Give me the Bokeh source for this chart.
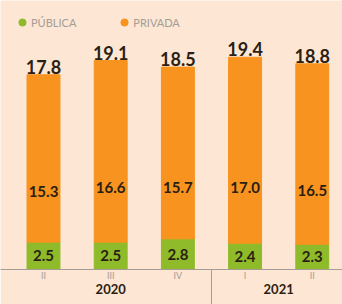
from bokeh.plotting import figure
from bokeh.models import ColumnDataSource, Range1d, LinearAxis, FixedTicker, Legend, LegendItem
from bokeh.core.properties import value
from bokeh.embed import file_html
from bokeh.resources import INLINE

# ---- data ----
quarters = ["II", "III", "IV", "I", "II"]
bar_years = ["2020", "2020", "2020", "2021", "2021"]
years = ["2020", "2021"]
publica = [2.5, 2.5, 2.8, 2.4, 2.3]
privada = [15.3, 16.6, 15.7, 17.0, 16.5]
totals = [17.8, 19.1, 18.5, 19.4, 18.8]

BG = "#fde6d3"
ORANGE = "#f7931e"
GREEN = "#8fbb2a"
GRAY = "#a39d96"
DARK = "#2a1f12"
FONT = "Lato"

xs = list(range(len(quarters)))
pub_top = publica
tot_top = [a + b for a, b in zip(publica, privada)]
priv_lab_y = [a + 0.3 * b for a, b in zip(publica, privada)]
pub_lab_y = [a / 2 for a in publica]

src = ColumnDataSource(dict(
    x=xs, pub=publica, priv=privada, tot=totals, pub_top=pub_top, tot_top=tot_top,
    priv_y=priv_lab_y, pub_y=pub_lab_y,
    pub_txt=[f"{v:.1f}" for v in publica],
    priv_txt=[f"{v:.1f}" for v in privada],
    tot_txt=[f"{v:.1f}" for v in totals],
))

p = figure(width=342, height=304, output_backend="svg", toolbar_location=None,
           x_range=Range1d(-0.64, 4.45), y_range=Range1d(0, 24.59),
           x_axis_location=None, y_axis_location=None,
           min_border_left=0, min_border_right=0, min_border_top=0, min_border_bottom=0)
p.background_fill_color = BG
p.border_fill_color = BG
p.outline_line_color = None
p.xgrid.visible = False
p.ygrid.visible = False

# legend markers (kept under the bars, only their style feeds the legend)
r_pub = p.scatter(x="x", y="pub_y", source=src, marker="circle", size=6, color=GREEN, level="underlay")
r_priv = p.scatter(x="x", y="priv_y", source=src, marker="circle", size=6, color=ORANGE, level="underlay")

W = 0.49
p.vbar(x="x", bottom=0, top="pub_top", width=W, color=GREEN, source=src)
p.vbar(x="x", bottom="pub_top", top="tot_top", width=W, color=ORANGE, source=src)

p.text(x="x", y="tot_top", text="tot_txt", source=src, text_align="center",
       text_baseline="bottom", y_offset=-1, text_font=value(FONT),
       text_font_style="bold", text_font_size="18px", text_color=DARK)
p.text(x="x", y="priv_y", text="priv_txt", source=src, text_align="center",
       text_baseline="middle", text_font=value(FONT),
       text_font_style="bold", text_font_size="15px", text_color=DARK)
p.text(x="x", y="pub_y", text="pub_txt", source=src, text_align="center",
       text_baseline="middle", text_font=value(FONT),
       text_font_style="bold", text_font_size="15px", text_color=DARK)

# separator between years
last_2020 = max(i for i, y in enumerate(bar_years) if y == years[0])
first_2021 = min(i for i, y in enumerate(bar_years) if y == years[1])
sep = (last_2020 + first_2021) / 2
year_pos = [sum(i for i, y in enumerate(bar_years) if y == yr) /
            sum(1 for y in bar_years if y == yr) for yr in years]

ax1 = LinearAxis(ticker=FixedTicker(ticks=xs, minor_ticks=[sep]),
                 major_label_overrides={i: q for i, q in zip(xs, quarters)})
ax1.axis_line_color = GRAY
ax1.major_tick_line_color = None
ax1.minor_tick_line_color = GRAY
ax1.minor_tick_in = 0
ax1.minor_tick_out = 40
ax1.major_tick_out = 0
ax1.major_tick_in = 0
ax1.major_label_standoff = -40
ax1.major_label_text_font = FONT
ax1.major_label_text_font_size = "9px"
ax1.major_label_text_color = GRAY
ax1.axis_label_standoff = 0
p.add_layout(ax1, "below")

ax2 = LinearAxis(ticker=FixedTicker(ticks=year_pos, minor_ticks=[]),
                 major_label_overrides={pos: yr for pos, yr in zip(year_pos, years)})
ax2.axis_line_color = None
ax2.major_tick_line_color = None
ax2.minor_tick_line_color = None
ax2.major_tick_out = 0
ax2.major_tick_in = 0
ax2.major_label_standoff = 0
ax2.major_label_text_font = FONT
ax2.major_label_text_font_style = "bold"
ax2.major_label_text_font_size = "13px"
ax2.major_label_text_color = DARK
ax2.axis_label = " "
ax2.axis_label_text_font_size = "1px"
ax2.axis_label_standoff = 4
p.add_layout(ax2, "below")

# legend
leg = Legend(items=[LegendItem(label="PÚBLICA", renderers=[r_pub]),
                    LegendItem(label="PRIVADA", renderers=[r_priv])],
             orientation="horizontal", location=(13, 237),
             glyph_width=18, glyph_height=20, label_standoff=0, spacing=39,
             margin=0, padding=8, background_fill_alpha=0, border_line_color=None,
             label_text_font=FONT, label_text_font_size="11px", label_text_color=GRAY,
             label_height=20)
p.add_layout(leg, "center")

open("out.html", "w").write(file_html(p, INLINE))
